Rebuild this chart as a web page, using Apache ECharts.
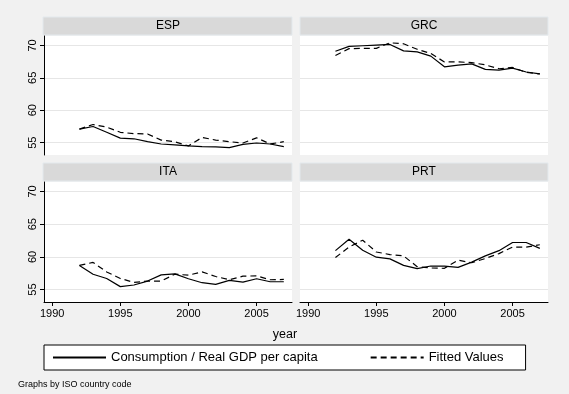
<!DOCTYPE html>
<html><head><meta charset="utf-8">
<script src="https://cdn.jsdelivr.net/npm/echarts@6/dist/echarts.min.js"></script>
<style>html,body{margin:0;padding:0;background:#f1f1f1}#c{width:569px;height:394px}</style>
</head><body><div id="c"></div>
<script>
const years = [1992,1993,1994,1995,1996,1997,1998,1999,2000,2001,2002,2003,2004,2005,2006,2007];
const countries = ['ESP','GRC','ITA','PRT'];
const espCons = [57.1,57.5,56.6,55.7,55.6,55.15,54.8,54.65,54.5,54.4,54.35,54.25,54.75,54.95,54.8,54.4];
const espFit  = [57.1,57.8,57.4,56.6,56.4,56.35,55.4,55.15,54.5,55.8,55.4,55.15,54.95,55.75,54.8,55.15];
const grcCons = [69.1,69.85,69.95,70.05,70.15,69.15,69.0,68.35,66.7,66.95,67.15,66.3,66.2,66.5,65.9,65.6];
const grcFit  = [68.45,69.5,69.55,69.55,70.4,70.25,69.4,68.75,67.45,67.45,67.35,67.0,66.4,66.6,65.85,65.6];
const itaCons = [58.7,57.35,56.7,55.45,55.7,56.3,57.25,57.4,56.65,56.05,55.8,56.4,56.15,56.65,56.2,56.2];
const itaFit  = [58.7,59.15,57.7,56.7,56.1,56.3,56.3,57.35,57.2,57.7,57.0,56.5,57.05,57.1,56.5,56.55];
const prtCons = [60.95,62.7,61.0,59.95,59.7,58.7,58.2,58.6,58.6,58.4,59.2,60.15,60.95,62.2,62.2,61.3];
const prtFit  = [59.9,61.5,62.55,60.75,60.35,60.15,58.5,58.3,58.25,59.5,59.1,59.75,60.5,61.5,61.5,61.85];
const consSeries = [espCons, grcCons, itaCons, prtCons];
const fitSeries = [espFit, grcFit, itaFit, prtFit];
const xTicks = [1990,1995,2000,2005];
const yTicks = [55,60,65,70];
const consName = 'Consumption / Real GDP per capita';
const fitName = 'Fitted Values';

const FONT = "'Liberation Sans', Arial, Helvetica, sans-serif";
const panels = [
  {left:44, top:36, w:248, h:119, yAx:true, xAx:false},
  {left:300, top:36, w:248, h:119, yAx:false, xAx:false},
  {left:44, top:182, w:248, h:120, yAx:true, xAx:true},
  {left:300, top:182, w:248, h:120, yAx:false, xAx:true}
];
const grid = [], xAxis = [], yAxis = [], series = [], graphic = [];
panels.forEach((p, i) => {
  grid.push({left:p.left, top:p.top, width:p.w, height:p.h, show:true, backgroundColor:'#ffffff', borderWidth:0});
  xAxis.push({
    type:'value', gridIndex:i, min:1989.4, max:2007.6,
    splitLine:{show:false},
    axisLine:{show:p.xAx, onZero:false, lineStyle:{color:'#000', width:1}},
    axisTick:{show:p.xAx, length:4, customValues:xTicks, lineStyle:{color:'#000'}},
    axisLabel:{show:p.xAx, customValues:xTicks, formatter:v => String(v), fontSize:11, color:'#000', fontFamily:FONT, margin:6}
  });
  yAxis.push({
    type:'value', gridIndex:i, min:53.1, max:71.45,
    axisLine:{show:p.yAx, onZero:false, lineStyle:{color:'#000', width:1}},
    axisTick:{show:p.yAx, length:4, customValues:yTicks, lineStyle:{color:'#000'}},
    axisLabel:{show:p.yAx, customValues:yTicks, formatter:v => String(v), rotate:90, fontSize:11, color:'#000', fontFamily:FONT, margin:6},
    splitLine:{show:true, lineStyle:{color:'#e6e6e6', width:1}}
  });
  series.push({
    type:'line', name:consName, xAxisIndex:i, yAxisIndex:i, symbol:'none',
    lineStyle:{color:'#000', width:1.2, type:'solid'}, itemStyle:{color:'#000'},
    data: years.map((y, k) => [y, consSeries[i][k]])
  });
  series.push({
    type:'line', name:fitName, xAxisIndex:i, yAxisIndex:i, symbol:'none',
    lineStyle:{color:'#000', width:1.2, type:[6,4]}, itemStyle:{color:'#000'},
    data: years.map((y, k) => [y, fitSeries[i][k]])
  });
  const sx = p.left - (p.yAx ? 1 : 0), sy = p.top - 19;
  graphic.push({type:'rect', shape:{x:sx, y:sy, width:p.w + (p.yAx ? 1 : 0), height:18},
    style:{fill:'#d9d9d9', stroke:'#e3e9ed', lineWidth:1}, silent:true});
  graphic.push({type:'text', x:p.left + p.w/2, y:sy + 9,
    style:{text:countries[i], font:'12px ' + FONT, fill:'#000', align:'center', verticalAlign:'middle', textAlign:'center', textVerticalAlign:'middle'}, silent:true});
});
graphic.push({type:'text', x:285, y:335,
  style:{text:'year', font:'12.5px ' + FONT, fill:'#000', align:'center', verticalAlign:'middle', textAlign:'center', textVerticalAlign:'middle'}, silent:true});
graphic.push({type:'text', x:18, y:385,
  style:{text:'Graphs by ISO country code', font:'9px ' + FONT, fill:'#000', align:'left', verticalAlign:'middle', textAlign:'left', textVerticalAlign:'middle'}, silent:true});

const chart = echarts.init(document.getElementById('c'), null, {renderer:'canvas'});
chart.setOption({
  animation:false,
  backgroundColor:'#f1f1f1',
  grid, xAxis, yAxis, series, graphic,
  legend:{
    data:[consName, fitName], left:44, top:345, orient:'horizontal',
    itemWidth:53, itemHeight:15, itemGap:52, padding:[6,22,6,8],
    backgroundColor:'#fff', borderColor:'#000', borderWidth:1, borderRadius:0,
    itemStyle:{opacity:0},
    textStyle:{fontSize:13, color:'#000', fontFamily:FONT},
    selectedMode:false
  }
});
</script></body></html>
